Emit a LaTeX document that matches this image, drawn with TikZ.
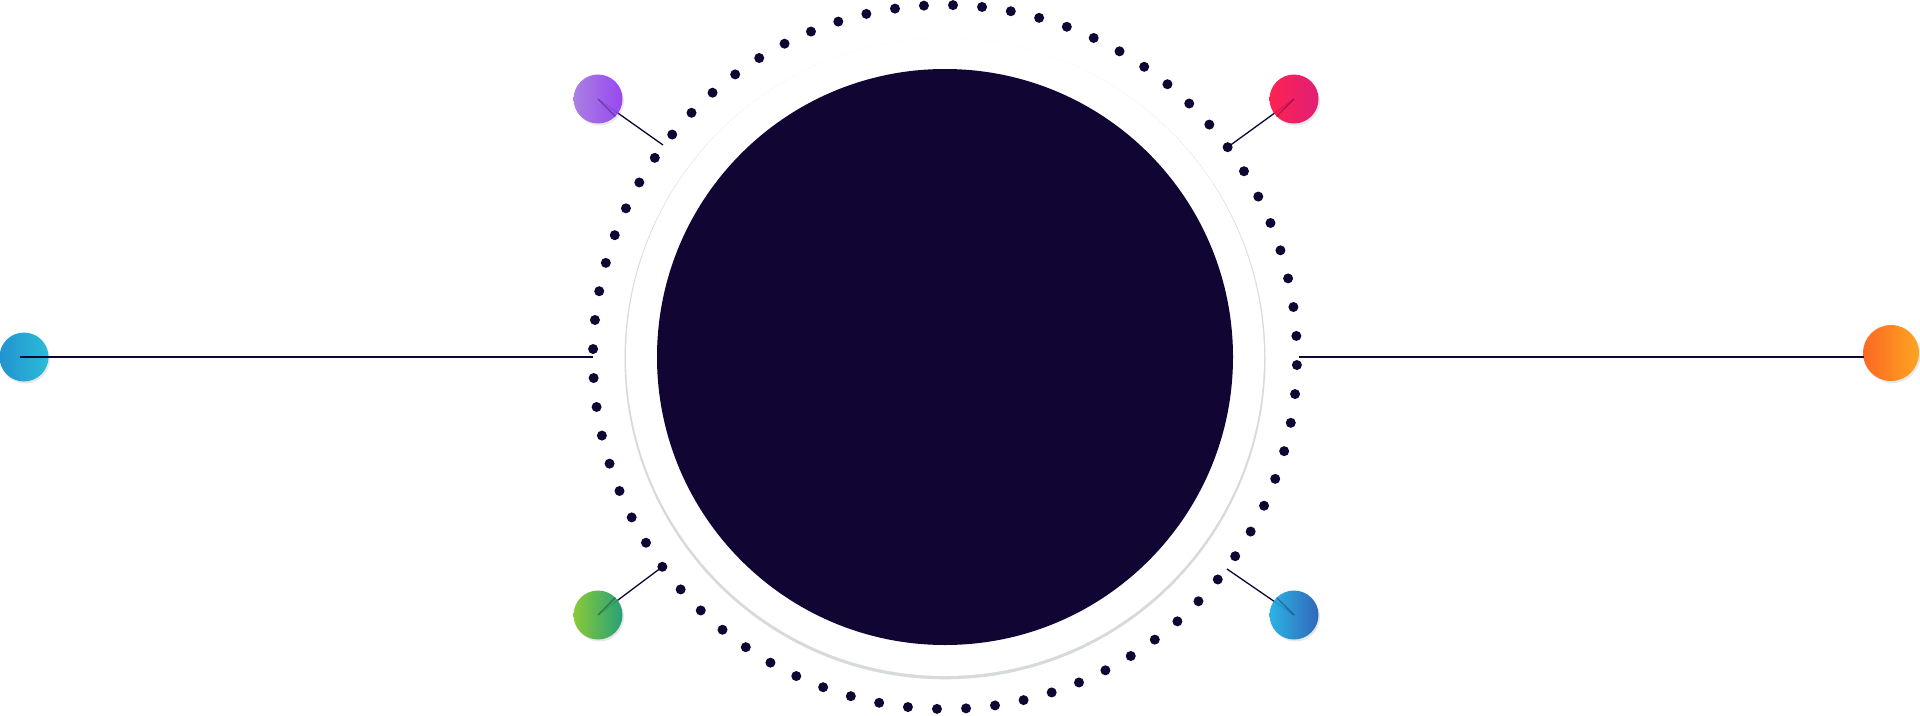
\documentclass[tikz,border=0pt]{standalone}
\usetikzlibrary{shadows}
\definecolor{navy}{HTML}{110533}
\definecolor{ringgray}{HTML}{D6DADB}
\definecolor{purpL}{RGB}{166,120,226}
\definecolor{purpR}{RGB}{145,60,240}
\definecolor{redL}{RGB}{255,20,70}
\definecolor{redR}{RGB}{225,15,110}
\definecolor{greenL}{RGB}{130,200,45}
\definecolor{greenR}{RGB}{25,155,110}
\definecolor{blueL}{RGB}{30,175,230}
\definecolor{blueR}{RGB}{35,95,180}
\definecolor{cyanL}{RGB}{20,140,205}
\definecolor{cyanR}{RGB}{30,185,215}
\definecolor{orangeL}{RGB}{255,95,20}
\definecolor{orangeR}{RGB}{255,160,20}
\tikzset{
  bubble/.style={circle, inner sep=0pt, minimum size=49pt, fill opacity=0.93,
    drop shadow={shadow xshift=1.5pt, shadow yshift=-2pt, opacity=0.18}},
  conn/.style={draw=navy, line width=1.3pt},
  ringdot/.style={circle, fill=navy, inner sep=0pt, minimum size=10pt},
}
\begin{document}
\begin{tikzpicture}[x=1pt,y=-1pt]
\useasboundingbox (0,0) rectangle (1920,715);
\fill[white] (0,0) rectangle (1920,715);
% light ring (shadowed white disc)
\node[circle, fill=ringgray, minimum size=641pt, inner sep=0pt] (ringshadow) at (945,358.8) {};
\node[circle, fill=white, minimum size=638pt, inner sep=0pt] (ring) at (945,357) {};
% main disc
\node[circle, fill=navy, minimum size=576pt, inner sep=0pt] (disc) at (945,357) {};
% dotted ring
\foreach \k in {0,...,75}{
  \pgfmathsetmacro{\a}{178.7-\k*4.737}
  \node[ringdot] (d\k) at ({945+352*cos(\a)},{357-352*sin(\a)}) {};
}
% connector ends
\coordinate (pEnd) at (663,145);
\coordinate (bEnd) at (1227,569);
\coordinate (lEnd) at (593,357);
\coordinate (rEnd) at (1299,357);
\coordinate (oEnd) at (1864,357);
\coordinate (cStart) at (20,357);
\coordinate (pC) at (598,99);
\coordinate (rC) at (1294,99);
\coordinate (gC) at (598,615);
\coordinate (bC) at (1294,615);
% lines
\draw[conn] (pC) -- (pEnd);
\draw[conn] (rC) -- (d30.center);
\draw[conn] (gC) -- (d68.center);
\draw[conn] (bC) -- (bEnd);
% bubbles
\node[bubble, left color=purpL, right color=purpR] (purp) at (pC) {};
\node[bubble, left color=redL, right color=redR] (red) at (rC) {};
\node[bubble, left color=greenL, right color=greenR] (green) at (gC) {};
\node[bubble, left color=blueL, right color=blueR] (blue) at (bC) {};
\node[bubble, left color=cyanL, right color=cyanR] (cyan) at (24,357) {};
\node[bubble, minimum size=56pt, left color=orangeL, right color=orangeR] (orange) at (1891,353) {};
% horizontal lines
\draw[conn] (cStart) -- (lEnd);
\draw[conn] (rEnd) -- (oEnd);
% faint lines over bubbles
\draw[conn, opacity=0.35] (pC) -- (purp.south east);
\draw[conn, opacity=0.35] (rC) -- (red.south west);
\draw[conn, opacity=0.35] (gC) -- (green.north east);
\draw[conn, opacity=0.35] (bC) -- (blue.north west);
\end{tikzpicture}
\end{document}
